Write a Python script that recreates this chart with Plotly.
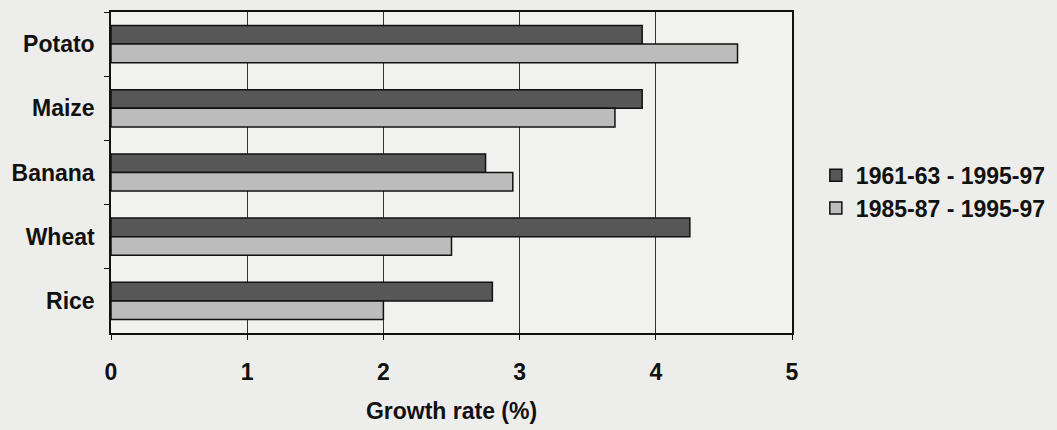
import plotly.graph_objects as go

categories = ["Potato", "Maize", "Banana", "Wheat", "Rice"]
series_names = ["1961-63 - 1995-97", "1985-87 - 1995-97"]
values_1961 = [3.9, 3.9, 2.75, 4.25, 2.8]
values_1985 = [4.6, 3.7, 2.95, 2.5, 2.0]
x_ticks = [0, 1, 2, 3, 4, 5]

FONT = "Liberation Sans, Arial, sans-serif"
FS = 23

fig = go.Figure()
fig.add_trace(go.Bar(
    y=categories, x=values_1961, orientation="h", name=series_names[0],
    marker=dict(color="#575757", line=dict(color="#111111", width=1.5)),
))
fig.add_trace(go.Bar(
    y=categories, x=values_1985, orientation="h", name=series_names[1],
    marker=dict(color="#bcbcbc", line=dict(color="#111111", width=1.5)),
))

fig.update_layout(
    width=1057, height=430,
    margin=dict(l=111, r=265, t=12, b=97, autoexpand=False),
    paper_bgcolor="#ededeb",
    plot_bgcolor="#f1f1ef",
    barmode="group",
    bargap=0.42,
    bargroupgap=0.0,
    font=dict(family=FONT, size=FS, color="#111111"),
    legend=dict(
        x=1.035, y=0.44, xanchor="left", yanchor="middle",
        font=dict(family=FONT, size=23, color="#111111", weight="bold"),
        bgcolor="rgba(0,0,0,0)",
    ),
    showlegend=True,
)

fig.update_xaxes(
    range=[0, 5], tickvals=x_ticks, ticktext=[str(t) for t in x_ticks],
    showgrid=True, gridcolor="#333333", gridwidth=1,
    showline=True, linecolor="#111111", linewidth=1.5, mirror=True,
    ticks="outside", ticklen=5, tickcolor="#111111",
    tickfont=dict(family=FONT, size=FS, weight="bold"),
    ticklabelstandoff=13,
    zeroline=False,
    title=dict(text="Growth rate (%)", standoff=19,
               font=dict(family=FONT, size=FS, weight="bold")),
)
fig.update_yaxes(
    autorange="reversed",
    tickson="boundaries",
    showgrid=False,
    showline=True, linecolor="#111111", linewidth=1.5, mirror=True,
    ticks="outside", ticklen=5, tickcolor="#111111",
    tickfont=dict(family=FONT, size=FS, weight="bold"),
    ticklabelstandoff=10,
)

fig.write_html("out.html")
